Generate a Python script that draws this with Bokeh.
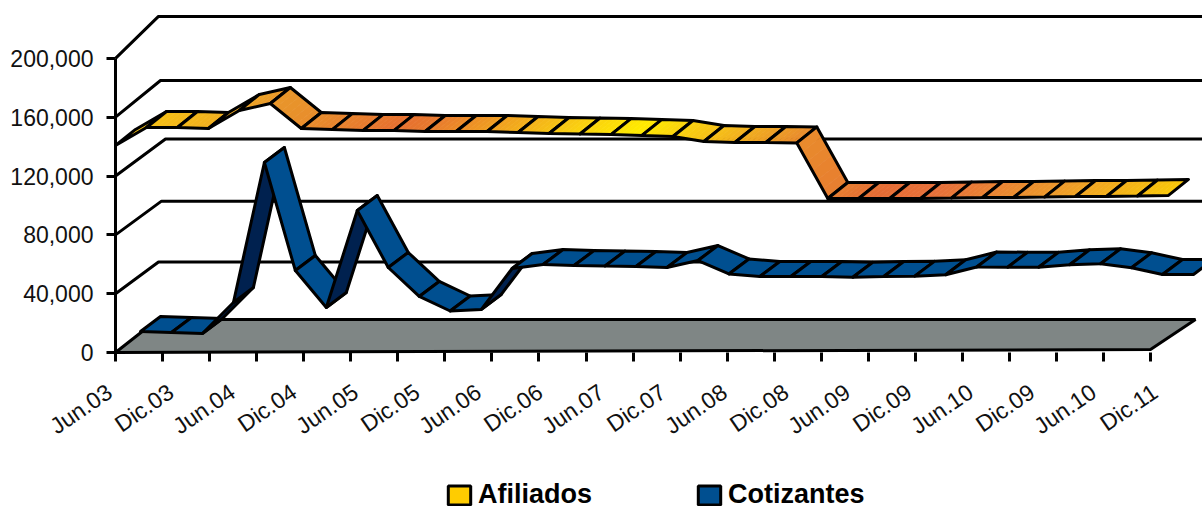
from bokeh.plotting import figure
from bokeh.models import Range1d, LinearAxis, FixedTicker, NumeralTickFormatter, Legend, LegendItem
from bokeh.embed import file_html
from bokeh.resources import INLINE

afiliados = [140800, 153000, 153000, 152300, 164600, 169300, 152300, 151600, 151000, 151000,
             150300, 150300, 150300, 149600, 148900, 148600, 148200, 147600, 146900, 143500,
             142800, 142800, 142500, 104700, 104700, 104700, 104700, 105100, 105400, 105400,
             105700, 106100, 106100, 106400, 106800]
cotizantes = [4800, 4100, 3400, 24500, 119700, 46200, 21100, 87000, 48300, 28600,
              18700, 19700, 47600, 50300, 49600, 49300, 49000, 48300, 53000, 43900,
              42200, 42200, 42200, 41700, 42200, 42400, 43300, 48600, 48500, 48500,
              50100, 50800, 48100, 43500, 43500]
x_labels = ["Jun.03", "Dic.03", "Jun.04", "Dic.04", "Jun.05", "Dic.05", "Jun.06", "Dic.06", "Jun.07",
            "Dic.07", "Jun.08", "Dic.08", "Jun.09", "Dic.09", "Jun.10", "Dic.09", "Jun.10", "Dic.11"]
y_ticks = [0, 40000, 80000, 120000, 160000, 200000]

PX = 30.97      # px per category
VP = 680        # value per px
L = 115         # px left of the value axis
W = 1087        # px right of the value axis
H = 506         # frame height in px
wall_back = {40000: (43, 31.6), 80000: (46, 33.7), 120000: (50, 37), 160000: (45, 36.7), 200000: (43, 42)}
stops = [(0, (249, 200, 14)), (2.8, (242, 180, 28)), (5.6, (232, 148, 43)), (9.2, (230, 112, 47)),
         (10.2, (232, 120, 46)), (12.4, (240, 160, 32)), (15, (250, 208, 16)), (17, (255, 234, 0)),
         (18.9, (248, 200, 20)), (22.1, (233, 142, 44)), (24.7, (229, 108, 52)), (26.6, (230, 112, 58)),
         (30.5, (237, 154, 42)), (34.6, (250, 203, 6))]


def grad(u):
    if u <= stops[0][0]:
        c = stops[0][1]
    elif u >= stops[-1][0]:
        c = stops[-1][1]
    else:
        for (a, ca), (b, cb) in zip(stops, stops[1:]):
            if a <= u <= b:
                f = (u - a) / (b - a)
                c = tuple(ca[k] + (cb[k] - ca[k]) * f for k in range(3))
                break
    return "#%02x%02x%02x" % tuple(int(round(v)) for v in c)


p = figure(width=L + W, height=H, frame_width=L + W, frame_height=H,
           x_range=Range1d(-L / PX, W / PX), y_range=Range1d(-(H - 352) * VP, 352 * VP),
           output_backend="svg", toolbar_location=None,
           min_border_left=0, min_border_right=0, min_border_top=0, min_border_bottom=0,
           background_fill_color="white", border_fill_color="white", outline_line_color=None)
p.grid.visible = False
LW = 3.0

# wall grid lines
gx, gy = [], []
for v, (dx, dy) in wall_back.items():
    gx.append([0, dx / PX, W / PX])
    gy.append([v, v + dy * VP, v + dy * VP])
p.multi_line(gx, gy, line_color="black", line_width=LW)

# floor
p.patch([0, 42 / PX, 1080 / PX, 1035 / PX], [0, 33 * VP, 33 * VP, 3 * VP],
        fill_color="#7f8685", line_color="black", line_width=LW)


def ribbon(vals, x0, base, ox, oy, color_of, dark=None):
    xs, ys, fc, fa, lc, lw = [], [], [], [], [], []
    n = len(vals)
    for i in range(n - 1):
        x1, x2 = x0 + i, x0 + i + 1
        y1, y2 = vals[i] + base, vals[i + 1] + base
        # steeper than the depth direction: the underside shows
        under = dark is not None and (y2 - y1) / VP / ((x2 - x1) * PX) > oy / VP / (ox * PX)
        if dark is None:
            m = 6
            for k in range(m):
                a, b = k / m, (k + 1) / m
                xa, xb = x1 + a, x1 + b
                ya, yb = y1 + (y2 - y1) * a, y1 + (y2 - y1) * b
                xs.append([xa, xb, xb + ox, xa + ox])
                ys.append([ya, yb, yb + oy, ya + oy])
                c = color_of((xa + xb) / 2 + ox / 2)
                fc.append(c); fa.append(1.0); lc.append(c); lw.append(0.7)
            xs.append([x1, x2, x2 + ox, x1 + ox])
            ys.append([y1, y2, y2 + oy, y1 + oy])
            fc.append("#000000"); fa.append(0.0); lc.append("black"); lw.append(LW)
        else:
            xs.append([x1, x2, x2 + ox, x1 + ox])
            ys.append([y1, y2, y2 + oy, y1 + oy])
            fc.append(dark if under else color_of(0)); fa.append(1.0); lc.append("black"); lw.append(LW)
    p.patches(xs, ys, fill_color=fc, fill_alpha=fa, line_color=lc, line_width=lw, line_join="round")


ribbon(afiliados, 0, 0, 20 / PX, 16 * VP, grad)
ribbon(cotizantes, 25 / PX, 14 * VP, 20 / PX, 15 * VP, lambda u: "#004f90", dark="#00214f")

# axes
ax = p.xaxis[0]
tick_pos = [47.05 * k / PX for k in range(23)]
ax.ticker = FixedTicker(ticks=tick_pos)
ax.fixed_location = 0
ax.axis_line_color = None
ax.major_tick_in = 0
ax.major_tick_out = 9
ax.major_tick_line_width = LW
ax.minor_tick_line_color = None
ax.major_label_overrides = {t: "" for t in tick_pos}
ax.major_label_text_font_size = "1px"
ax.major_label_standoff = 0

LSTEP = 61.5
LX0 = 109
p.extra_x_ranges = {"labels": Range1d(-LX0 / LSTEP, (L + W - LX0) / LSTEP)}
lab = LinearAxis(x_range_name="labels", ticker=FixedTicker(ticks=list(range(len(x_labels)))),
                 fixed_location=0,
                 major_label_overrides={i: t for i, t in enumerate(x_labels)},
                 axis_line_color=None, major_tick_line_color=None, minor_tick_line_color=None,
                 major_label_orientation=0.6, major_label_standoff=31,
                 major_label_text_font="Liberation Sans", major_label_text_font_size="23px",
                 major_label_text_color="#111111")
p.add_layout(lab, "below")

yax = p.yaxis[0]
yax.ticker = FixedTicker(ticks=y_ticks)
yax.fixed_location = 0
yax.bounds = (0, 200000)
yax.formatter = NumeralTickFormatter(format="0,0")
yax.axis_line_width = LW
yax.axis_line_color = "black"
yax.major_tick_in = 0
yax.major_tick_out = 9
yax.major_tick_line_width = LW
yax.minor_tick_line_color = None
yax.major_label_text_font = "Liberation Sans"
yax.major_label_text_font_size = "23px"
yax.major_label_text_color = "#111111"
yax.major_label_standoff = 13

# legend
r1 = p.quad(left=[-10], right=[-9], top=[0], bottom=[1], fill_color="#ffcc00", line_color="black", line_width=3)
r2 = p.quad(left=[-10], right=[-9], top=[0], bottom=[1], fill_color="#004f90", line_color="black", line_width=3)
leg = Legend(items=[LegendItem(label="Afiliados", renderers=[r1]), LegendItem(label="Cotizantes", renderers=[r2])],
             orientation="horizontal", location=(445, -4), border_line_color=None,
             background_fill_alpha=0, padding=0, margin=0, spacing=103,
             glyph_width=28, glyph_height=24, label_standoff=5,
             label_text_font="Liberation Sans", label_text_font_style="bold",
             label_text_font_size="27px", label_text_color="black")
p.add_layout(leg, "center")

open("out.html", "w").write(file_html(p, INLINE))
